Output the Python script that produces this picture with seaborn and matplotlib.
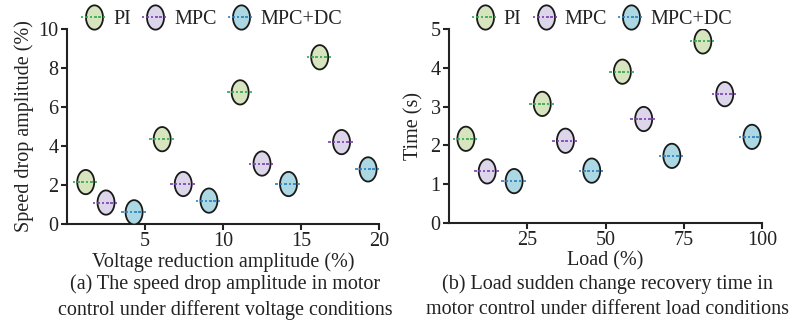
import numpy as np
import pandas as pd
import matplotlib
matplotlib.use("Agg")
import matplotlib.pyplot as plt
from matplotlib.path import Path
from matplotlib.lines import Line2D
import seaborn as sns

# ---------------- data ----------------
methods = ["PI", "MPC", "MPC+DC"]

volt_x_pi = [1.2, 6.1, 11.1, 16.2]
volt_y_pi = [2.15, 4.35, 6.75, 8.55]
volt_x_mpc = [2.5, 7.45, 12.5, 17.6]
volt_y_mpc = [1.1, 2.05, 3.1, 4.2]
volt_x_dc = [4.3, 9.1, 14.2, 19.3]
volt_y_dc = [0.6, 1.2, 2.05, 2.8]

load_x_pi = [5.4, 29.8, 55.4, 81.1]
load_y_pi = [2.17, 3.07, 3.9, 4.68]
load_x_mpc = [12.2, 37.2, 62.2, 88.1]
load_y_mpc = [1.33, 2.12, 2.68, 3.32]
load_x_dc = [20.8, 45.6, 71.2, 96.8]
load_y_dc = [1.08, 1.35, 1.73, 2.22]

volt_xticks = [5, 10, 15, 20]
volt_yticks = [0, 2, 4, 6, 8, 10]
load_xticks = [25, 50, 75, 100]
load_yticks = [0, 1, 2, 3, 4, 5]

fill_colors = {"PI": "#d6e5bd", "MPC": "#ddd5ea", "MPC+DC": "#acd8e3"}
dash_colors = {"PI": "#2fa84f", "MPC": "#7a3fb0", "MPC+DC": "#2a7fc0"}

def make_df(xs, ys):
    rows = []
    for m, xv, yv in zip(methods, xs, ys):
        for a, b in zip(xv, yv):
            rows.append({"x": a, "y": b, "method": m})
    return pd.DataFrame(rows)

df_volt = make_df([volt_x_pi, volt_x_mpc, volt_x_dc], [volt_y_pi, volt_y_mpc, volt_y_dc])
df_load = make_df([load_x_pi, load_x_mpc, load_x_dc], [load_y_pi, load_y_mpc, load_y_dc])

# ---------------- markers ----------------
theta = np.linspace(0, 2 * np.pi, 60)
ell_verts = np.column_stack([0.70 * np.cos(theta), np.sin(theta)])
ellipse = Path(ell_verts, closed=True)

n_d = 6
seg = 2.0 / n_d
dverts, dcodes = [], []
for i in range(n_d):
    a = -1 + i * seg
    dverts += [(a, 0.0), (a + seg * 0.6, 0.0)]
    dcodes += [Path.MOVETO, Path.LINETO]
dash = Path(dverts, dcodes)

# ---------------- style ----------------
FS = 14.5
sns.set_style("ticks")
plt.rcParams["font.family"] = ["Liberation Serif", "DejaVu Serif"]
plt.rcParams["font.size"] = FS
plt.rcParams["axes.linewidth"] = 1.5
plt.rcParams["xtick.major.width"] = 1.5
plt.rcParams["ytick.major.width"] = 1.5
plt.rcParams["xtick.major.size"] = 4
plt.rcParams["ytick.major.size"] = 4
for k in ["xtick.color", "ytick.color", "axes.edgecolor", "text.color",
          "axes.labelcolor", "xtick.labelcolor", "ytick.labelcolor"]:
    plt.rcParams[k] = "#222222"

W, H = 793, 321
fig = plt.figure(figsize=(W / 100, H / 100), dpi=100)
ax1 = fig.add_axes([67 / W, 1 - 224 / H, 312 / W, 195 / H])
ax2 = fig.add_axes([449 / W, 1 - 223 / H, 313 / W, 194 / H])

ELL_S = 17.5 ** 2
DASH_S = 19 ** 2

def draw(ax, df):
    sns.scatterplot(data=df, x="x", y="y", hue="method", palette=fill_colors,
                    marker=ellipse, s=ELL_S, edgecolor="#1a1a1a", linewidth=1.3,
                    legend=False, ax=ax, zorder=3)
    sns.scatterplot(data=df, x="x", y="y", hue="method", palette=dash_colors,
                    marker=dash, s=DASH_S, edgecolor="face", linewidth=1.2,
                    legend=False, ax=ax, zorder=4)

draw(ax1, df_volt)
draw(ax2, df_load)

for ax in (ax1, ax2):
    sns.despine(ax=ax)
    ax.tick_params(labelsize=FS, pad=2)

ax1.set_xlim(0, 20)
ax1.set_ylim(0, 10)
ax1.set_xticks(volt_xticks)
ax1.set_yticks(volt_yticks)
ax1.set_xlabel("Voltage reduction amplitude (%)", fontsize=FS, labelpad=1)
ax1.set_ylabel("Speed drop amplitude (%)", fontsize=FS, labelpad=3)

ax2.set_xlim(0, 100)
ax2.set_ylim(0, 5)
ax2.set_xticks(load_xticks)
ax2.set_yticks(load_yticks)
ax2.set_xlabel("Load (%)", fontsize=FS, labelpad=1)
ax2.set_ylabel("Time (s)", fontsize=FS, labelpad=5)

fig.text(225 / W, 1 - 274 / H, "(a) The speed drop amplitude in motor\ncontrol under different voltage conditions",
         ha="center", va="top", fontsize=FS, linespacing=1.45)
fig.text(607 / W, 1 - 274 / H, "(b) Load sudden change recovery time in\nmotor control under different load conditions",
         ha="center", va="top", fontsize=FS, linespacing=1.45)

# legends
handles = []
for m in methods:
    h_e = Line2D([], [], linestyle="none", marker=ellipse, markersize=17.5,
                 markerfacecolor=fill_colors[m], markeredgecolor="#1a1a1a", markeredgewidth=1.3)
    h_d = Line2D([], [], linestyle="none", marker=dash, markersize=19,
                 markeredgecolor=dash_colors[m], markeredgewidth=1.2)
    handles.append((h_e, h_d))

for ax, xa in ((ax1, 0.465), (ax2, 0.49)):
    ax.legend(handles, methods, loc="center", bbox_to_anchor=(xa, 1.05), ncol=3,
              frameon=False, fontsize=FS, handlelength=1.2, handletextpad=0.35,
              columnspacing=0.6, borderaxespad=0)

fig.savefig("out.png", dpi=100)
